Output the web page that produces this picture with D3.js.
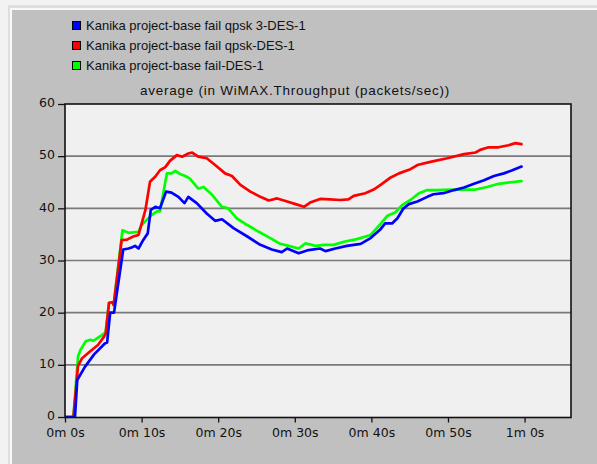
<!DOCTYPE html>
<html>
<head>
<meta charset="utf-8">
<script src="https://cdn.jsdelivr.net/npm/d3@7"></script>
<style>
  html, body { margin: 0; padding: 0; background: #f2f2f2; }
  svg { display: block; }
</style>
</head>
<body>
<svg id="chart" width="597" height="464"></svg>
<script>
// Series names and colours (legend order)
const seriesNames = [
  "Kanika project-base fail qpsk 3-DES-1",
  "Kanika project-base fail qpsk-DES-1",
  "Kanika project-base fail-DES-1"
];
const seriesColors = ["#0000ff", "#ff0000", "#00ff00"];

// Time (seconds) and average throughput (packets/sec) per series
const blueT = [0, 1.3, 1.6, 2.6, 3.8, 5.2, 5.5, 5.9, 6.4, 7.6, 8.3, 8.7, 9.15, 9.6, 10.2, 10.8, 11.2, 11.8, 12.4, 13.2, 13.9, 14.8, 15.6, 16.1, 17.2, 18.5, 19.6, 20.5, 22.0, 23.8, 25.5, 27.0, 28.3, 29.0, 30.5, 31.8, 33.3, 34.0, 35.3, 36.8, 38.6, 39.9, 41.2, 41.8, 42.7, 43.4, 44.2, 44.9, 46.0, 47.3, 48.1, 49.4, 50.8, 52.1, 53.4, 54.7, 56.0, 57.3, 58.4, 59.6];
const blueV = [0, 0, 7.1, 9.6, 12.0, 14.1, 14.3, 20.0, 20.0, 32.1, 32.3, 32.5, 32.8, 32.3, 33.9, 35.2, 39.7, 40.3, 40.0, 43.2, 43.0, 42.2, 41.0, 42.2, 41.0, 39.0, 37.6, 37.9, 36.2, 34.6, 33.0, 32.1, 31.6, 32.3, 31.4, 32.0, 32.3, 31.8, 32.3, 32.8, 33.2, 34.3, 36.0, 37.1, 37.1, 38.1, 40.0, 40.8, 41.3, 42.2, 42.7, 42.9, 43.5, 44.0, 44.7, 45.4, 46.2, 46.7, 47.3, 48.0];

const redT = [0, 1.1, 1.7, 2.2, 3.3, 4.3, 5.1, 5.3, 5.75, 6.2, 6.35, 7.4, 8.1, 8.9, 9.6, 10.5, 11.1, 11.8, 12.4, 13.1, 13.7, 14.6, 15.3, 16.1, 16.6, 17.4, 18.5, 19.6, 20.9, 21.8, 22.9, 24.2, 25.5, 26.6, 27.7, 29.0, 30.1, 31.2, 32.0, 33.3, 34.6, 35.9, 37.0, 37.7, 39.2, 40.3, 41.2, 42.4, 43.6, 45.1, 46.0, 47.7, 49.9, 52.1, 53.6, 54.2, 55.3, 56.6, 57.9, 58.8, 59.6];
const redV = [0, 0, 9.8, 11.2, 12.6, 13.8, 15.4, 15.9, 21.9, 22.0, 21.5, 33.9, 34.0, 34.6, 34.9, 39.7, 45.1, 46.1, 47.3, 47.9, 49.1, 50.2, 49.9, 50.5, 50.7, 49.9, 49.6, 48.3, 46.7, 46.2, 44.5, 43.2, 42.2, 41.5, 41.9, 41.3, 40.8, 40.3, 41.1, 41.8, 41.7, 41.6, 41.7, 42.4, 42.9, 43.6, 44.5, 45.8, 46.7, 47.5, 48.3, 48.9, 49.6, 50.4, 50.7, 51.2, 51.7, 51.7, 52.1, 52.5, 52.3];

const greenT = [0, 1.1, 1.7, 2.0, 2.7, 3.3, 3.7, 5.1, 5.3, 5.75, 6.2, 6.35, 7.5, 8.3, 9.6, 10.0, 10.7, 11.3, 12.0, 12.4, 13.3, 13.9, 14.4, 15.0, 15.7, 16.3, 17.4, 18.1, 19.2, 20.5, 21.3, 22.4, 23.8, 25.3, 26.8, 28.1, 29.2, 30.5, 31.4, 32.7, 33.8, 35.1, 36.4, 38.1, 39.9, 41.2, 42.1, 43.1, 44.0, 45.1, 46.2, 47.3, 48.6, 50.3, 52.1, 53.6, 55.1, 56.6, 58.2, 59.6];
const greenV = [0, 0, 11.6, 12.8, 14.5, 14.8, 14.6, 16.0, 16.2, 21.9, 22.0, 21.5, 35.8, 35.3, 35.5, 36.8, 37.8, 38.7, 39.4, 39.4, 46.7, 46.7, 47.2, 46.6, 46.2, 45.7, 43.8, 44.1, 42.6, 40.3, 40.0, 38.1, 36.8, 35.5, 34.3, 33.2, 32.8, 32.3, 33.3, 32.8, 33.0, 33.0, 33.6, 34.1, 34.9, 37.0, 38.6, 39.2, 40.6, 41.6, 42.9, 43.5, 43.5, 43.6, 43.6, 43.6, 44.1, 44.7, 45.0, 45.2];

// Axis ticks
const yTicks = [0, 10, 20, 30, 40, 50, 60];
const xTicks = [0, 10, 20, 30, 40, 50, 60];
const xTickLabels = ["0m 0s", "0m 10s", "0m 20s", "0m 30s", "0m 40s", "0m 50s", "1m 0s"];
const chartTitle = "average (in WiMAX.Throughput (packets/sec))";

const svg = d3.select("#chart");

// Window-style frame and grey panel
svg.append("rect").attr("x", 8).attr("y", 5).attr("width", 589).attr("height", 459).attr("fill", "#dedede");
svg.append("rect").attr("x", 10).attr("y", 8).attr("width", 587).attr("height", 456).attr("fill", "#f8f8f8");
svg.append("rect").attr("x", 12).attr("y", 10).attr("width", 585).attr("height", 454).attr("fill", "#c0c0c0");

const plot = { left: 65, right: 571, top: 104, bottom: 417.5 };

const x = d3.scaleLinear().domain([0, 66.06]).range([plot.left, plot.right]);
const y = d3.scaleLinear().domain([0, 60]).range([417, 104]);

// Plot background
svg.append("rect")
  .attr("x", plot.left).attr("y", plot.top)
  .attr("width", plot.right - plot.left).attr("height", plot.bottom - plot.top)
  .attr("fill", "#f0f0f0");

// Horizontal gridlines
svg.append("g")
  .selectAll("line")
  .data(yTicks.filter(d => d > 0 && d < 60))
  .join("line")
  .attr("x1", plot.left).attr("x2", plot.right)
  .attr("y1", d => y(d)).attr("y2", d => y(d))
  .attr("stroke", "#7a7a7a").attr("stroke-width", 1.6);

// Series lines (drawn so blue sits on top)
const line = d3.line().x(d => x(d[0])).y(d => y(d[1]));
const series = [
  { t: blueT, v: blueV, c: seriesColors[0] },
  { t: redT, v: redV, c: seriesColors[1] },
  { t: greenT, v: greenV, c: seriesColors[2] }
];
svg.append("clipPath").attr("id", "plotclip")
  .append("rect").attr("x", plot.left).attr("y", plot.top - 2)
  .attr("width", plot.right - plot.left).attr("height", plot.bottom - plot.top + 2);
const lines = svg.append("g").attr("clip-path", "url(#plotclip)");
series.slice().reverse().forEach(s => {
  lines.append("path")
    .datum(s.t.map((t, i) => [t, s.v[i]]))
    .attr("d", line)
    .attr("fill", "none")
    .attr("stroke", s.c)
    .attr("stroke-width", 2.7)
    .attr("stroke-linejoin", "round")
    .attr("stroke-linecap", "round");
});

// Plot border
svg.append("rect")
  .attr("x", plot.left).attr("y", plot.top)
  .attr("width", plot.right - plot.left).attr("height", plot.bottom - plot.top)
  .attr("fill", "none").attr("stroke", "#111").attr("stroke-width", 1.6);

// Y axis
const yAxis = svg.append("g")
  .attr("transform", `translate(${plot.left},0)`)
  .call(d3.axisLeft(y).tickValues(yTicks).tickSize(7).tickPadding(3));
yAxis.select(".domain").remove();
yAxis.selectAll("line").attr("stroke", "#111").attr("stroke-width", 1.3);
yAxis.selectAll("text")
  .attr("font-family", "'DejaVu Sans', sans-serif")
  .attr("font-size", 12.5).attr("fill", "#111").attr("dy", "0.22em");

// X axis
const xAxis = svg.append("g")
  .attr("transform", `translate(0,${plot.bottom})`)
  .call(d3.axisBottom(x).tickValues(xTicks).tickFormat((d, i) => xTickLabels[i]).tickSize(5).tickPadding(6));
xAxis.select(".domain").remove();
xAxis.selectAll("line").attr("stroke", "#111").attr("stroke-width", 1.3);
xAxis.selectAll("text")
  .attr("font-family", "'DejaVu Sans', sans-serif")
  .attr("font-size", 12.5).attr("fill", "#111");

// Title
svg.append("text")
  .attr("x", 295).attr("y", 94.5)
  .attr("text-anchor", "middle")
  .attr("font-family", "'Liberation Sans', Arial, sans-serif")
  .attr("font-size", 13.5).attr("letter-spacing", "0.75px").attr("fill", "#111")
  .text(chartTitle);

// Legend
const legend = svg.append("g");
seriesNames.forEach((name, i) => {
  const row = legend.append("g").attr("transform", `translate(72,${21 + i * 20})`);
  row.append("rect").attr("x", 0.5).attr("y", 0.5).attr("width", 8).attr("height", 8)
    .attr("fill", seriesColors[i]).attr("stroke", "#000").attr("stroke-width", 1);
  row.append("text").attr("x", 14).attr("y", 9)
    .attr("font-family", "'Liberation Sans', Arial, sans-serif")
    .attr("font-size", 13).attr("fill", "#111")
    .text(name);
});
</script>
</body>
</html>
